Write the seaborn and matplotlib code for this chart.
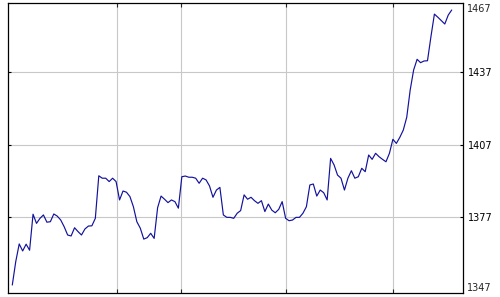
import matplotlib
matplotlib.use("Agg")
import matplotlib.pyplot as plt
import seaborn as sns
import numpy as np
import pandas as pd

# ---- data ----
values_part1 = [1349.0, 1358.7, 1366.0, 1363.1, 1365.9, 1363.4, 1378.3, 1374.5, 1376.6, 1378.0,
                1375.0, 1375.2, 1378.4, 1377.5, 1375.9, 1373.1, 1369.7, 1369.3, 1372.7, 1371.1,
                1369.7, 1372.2, 1373.4, 1373.5, 1376.6, 1394.2, 1393.2, 1393.2, 1391.8, 1393.2,
                1391.8, 1384.2, 1387.9, 1387.4, 1385.6, 1381.4, 1375.2, 1372.5, 1368.0, 1368.6,
                1370.4, 1368.3, 1381.0]
values_part2 = [1385.8, 1384.5, 1383.1, 1384.2, 1383.5, 1380.8, 1393.8, 1394.1, 1393.6, 1393.6,
                1393.2, 1391.1, 1393.2, 1392.5, 1390.0, 1385.3, 1388.3, 1389.4, 1378.0, 1377.0,
                1377.0, 1376.6, 1378.7, 1379.8, 1386.3, 1384.5, 1385.3, 1383.9, 1382.8, 1383.9,
                1379.4, 1382.5, 1380.0, 1378.9, 1380.3, 1383.5, 1376.6, 1375.6, 1375.9, 1377.0,
                1377.0, 1378.7, 1381.4]
values_part3 = [1390.4, 1390.8, 1385.8, 1388.3, 1387.2, 1384.2, 1401.4, 1398.7, 1394.5, 1393.2,
                1388.3, 1393.2, 1396.3, 1393.2, 1393.8, 1397.3, 1395.9, 1402.8, 1401.0, 1403.5,
                1402.1, 1401.0, 1400.0, 1403.5, 1409.3, 1407.6, 1410.1, 1413.1, 1418.4, 1429.7,
                1438.0, 1442.4, 1441.0, 1441.7, 1441.8, 1451.8, 1461.1, 1459.8, 1458.4, 1457.0,
                1460.7, 1462.8]
values = values_part1 + values_part2 + values_part3
inner_ticks = [1377, 1407, 1437]
inner_labels = ["1377", "1407", "1437"]
top_label = "1467"
bottom_label = "1347"
vgrid_positions = [30.35, 48.8, 79.1, 109.9]

df = pd.DataFrame({"t": np.arange(len(values)), "value": values})

sns.set_style("white")
plt.rcParams["font.family"] = ["DejaVu Sans"]

fig = plt.figure(figsize=(5.0, 2.97), dpi=100)
ax = fig.add_axes([8 / 500, 4 / 297, 455.3 / 500, 290.5 / 297])

sns.lineplot(data=df, x="t", y="value", ax=ax, color="#12129c", linewidth=0.85)

ax.set_xlim(-1.24, len(values) - 1 + 3.35)
ax.set_ylim(1345.7, 1465.9)
ax.set_xlabel("")
ax.set_ylabel("")

ax.set_yticks(inner_ticks)
ax.set_yticklabels(inner_labels)
ax.set_xticks(vgrid_positions)
ax.set_xticklabels([])

ax.grid(True, color="#c8c8c8", linewidth=0.8)
ax.set_axisbelow(True)

ax.yaxis.tick_right()
ax.tick_params(axis="y", which="both", direction="in", length=2.3, width=0.8,
               left=True, right=True, labelleft=False, labelright=True,
               labelsize=7, pad=3, colors="black")
ax.tick_params(axis="x", which="both", direction="in", length=3, width=0.8,
               top=True, bottom=True, labelbottom=False)

for s in ax.spines.values():
    s.set_visible(True)
    s.set_color("black")
    s.set_linewidth(0.9)

ax.text(1.0088, 0.9776, top_label, transform=ax.transAxes, ha="left", va="center", fontsize=7)
ax.text(1.0088, 0.018, bottom_label, transform=ax.transAxes, ha="left", va="center", fontsize=7)

fig.savefig("out.png", dpi=100)
